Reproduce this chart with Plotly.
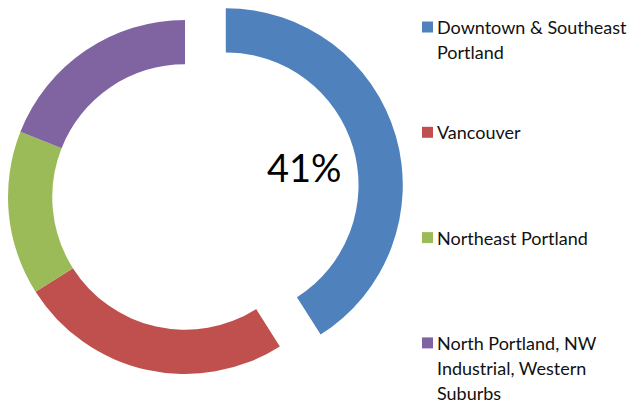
import math
import plotly.graph_objects as go

# ---- data ----
labels = [
    "Downtown & Southeast Portland",
    "Vancouver",
    "Northeast Portland",
    "North Portland, NW Industrial, Western Suburbs",
]
legend_lines = [
    ["Downtown & Southeast", "Portland"],
    ["Vancouver"],
    ["Northeast Portland"],
    ["North Portland, NW", "Industrial, Western", "Suburbs"],
]
values = [41, 25, 15, 19]
colors = ["#4F81BD", "#C0504D", "#9BBB59", "#8064A2"]

# ---- layout constants ----
W, H = 635, 403
CX, CY, R = 185, 197, 177
HOLE = 0.75
PULL = 0.24
FONT = "Lato"


def domain(cx, cy, r):
    return dict(x=[(cx - r) / W, (cx + r) / W], y=[1 - (cy + r) / H, 1 - (cy - r) / H])


fig = go.Figure()

# ring with every slice except the exploded first one
ring_colors = ["rgba(0,0,0,0)"] + colors[1:]
fig.add_trace(go.Pie(
    labels=labels, values=values, hole=HOLE, sort=False, direction="clockwise", rotation=0,
    marker=dict(colors=ring_colors, line=dict(width=0)), textinfo="none",
    domain=domain(CX, CY, R), showlegend=False, hoverinfo="label+percent",
))

# exploded first slice, shifted outward along its bisector
mid = 2 * math.pi * (values[0] / 2) / sum(values)
dx = PULL * R * math.sin(mid)
dy = -PULL * R * math.cos(mid)
pulled_colors = [colors[0]] + ["rgba(0,0,0,0)"] * (len(values) - 1)
fig.add_trace(go.Pie(
    labels=labels, values=values, hole=HOLE, sort=False, direction="clockwise", rotation=0,
    marker=dict(colors=pulled_colors, line=dict(width=0)), textinfo="none",
    domain=domain(CX + dx, CY + dy, R), showlegend=False, hoverinfo="label+percent",
))

annotations = [dict(
    text=f"{round(100 * values[0] / sum(values))}%", x=304 / W, y=1 - 167 / H,
    xref="paper", yref="paper", xanchor="center", yanchor="middle", showarrow=False,
    font=dict(family=FONT, size=38, color="#000000"),
)]
shapes = []

# legend on the right
LEG_SQ_X0, LEG_SQ = 422, 11
LEG_TEXT_X = 435
LEG_Y0, LEG_STEP, LINE_STEP = 27, 105.3, 25
for i, (lines, col) in enumerate(zip(legend_lines, colors)):
    y_first = LEG_Y0 + i * LEG_STEP
    shapes.append(dict(
        type="rect", xref="paper", yref="paper",
        x0=LEG_SQ_X0 / W, x1=(LEG_SQ_X0 + LEG_SQ) / W,
        y0=1 - (y_first + LEG_SQ / 2) / H, y1=1 - (y_first - LEG_SQ / 2) / H,
        fillcolor=col, line=dict(width=0),
    ))
    for j, line in enumerate(lines):
        annotations.append(dict(
            text=line, x=LEG_TEXT_X / W, y=1 - (y_first + j * LINE_STEP) / H,
            xref="paper", yref="paper", xanchor="left", yanchor="middle", showarrow=False,
            font=dict(family=FONT, size=18, color="#111111"),
        ))

fig.update_layout(
    width=W, height=H, margin=dict(l=0, r=0, t=0, b=0),
    paper_bgcolor="white", plot_bgcolor="white",
    annotations=annotations, shapes=shapes, showlegend=False,
)

fig.write_html("out.html")
